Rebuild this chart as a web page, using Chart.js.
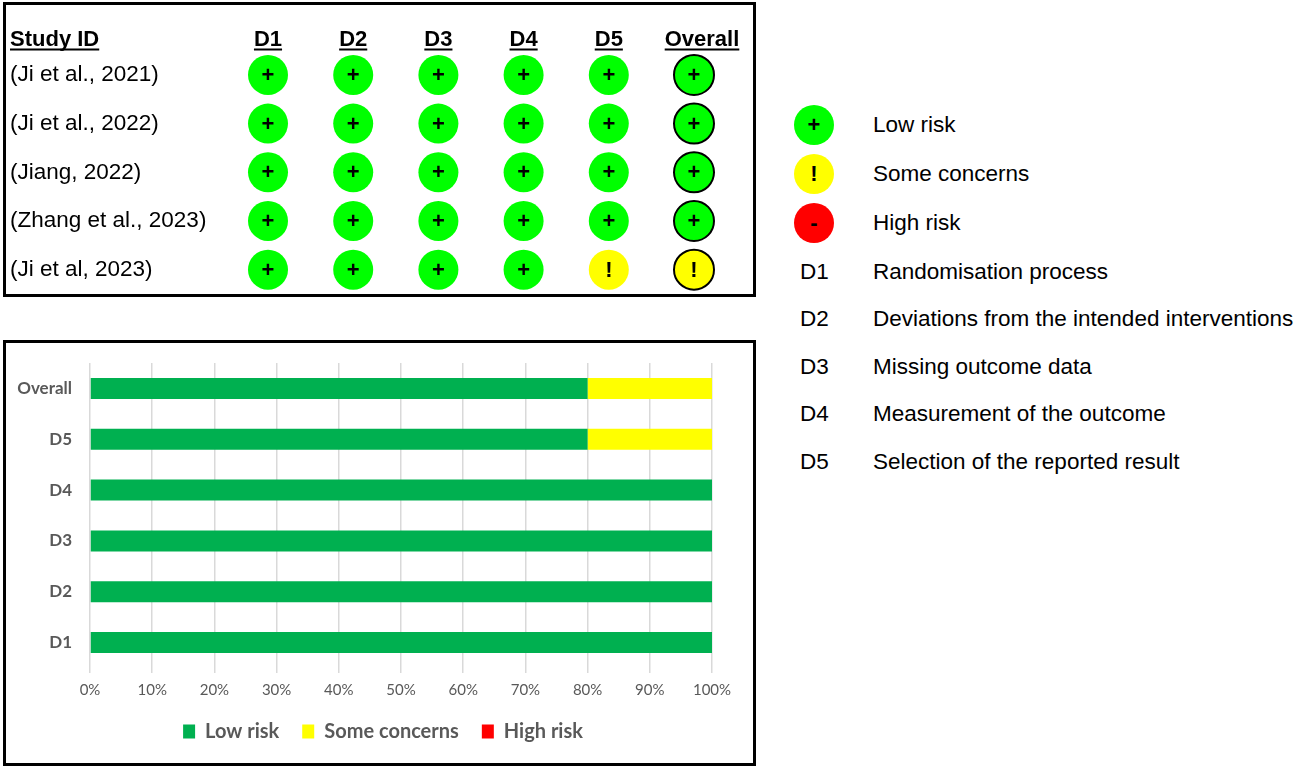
<!DOCTYPE html>
<html>
<head>
<meta charset="utf-8">
<script src="https://cdn.jsdelivr.net/npm/chart.js@4.4.0/dist/chart.umd.min.js"></script>
<style>
  html, body { margin: 0; padding: 0; background: #fff; }
  body { width: 1299px; height: 768px; position: relative; overflow: hidden; font-family: 'Liberation Sans', Arial, sans-serif; }
  .box { position: absolute; border: 3px solid #000; background: #fff; }
  #topBox { left: 3px; top: 2px; width: 747px; height: 289px; }
  #barBox { left: 3px; top: 340px; width: 747px; height: 420px; }
  .box canvas { display: block; }
  .row { position: absolute; height: 40px; line-height: 40px; font-size: 22.5px; color: #000; white-space: nowrap; }
  .dot { position: absolute; left: 794px; width: 40px; height: 40px; border-radius: 50%; text-align: center; font-weight: bold; font-size: 22px; line-height: 40px; }
  .code { position: absolute; left: 800px; }
  .label { position: absolute; left: 873px; }
</style>
</head>
<body>
<div class="box" id="topBox"><canvas id="traffic" width="747" height="289"></canvas></div>
<div class="box" id="barBox"><canvas id="summary" width="747" height="420"></canvas></div>
<div id="key"></div>
<script>
// traffic light plot
const studies = ['(Ji et al., 2021)', '(Ji et al., 2022)', '(Jiang, 2022)', '(Zhang et al., 2023)', '(Ji et al, 2023)'];
const domains = ['D1', 'D2', 'D3', 'D4', 'D5', 'Overall'];
const judgements = [
  ['+', '+', '+', '+', '+', '+'],
  ['+', '+', '+', '+', '+', '+'],
  ['+', '+', '+', '+', '+', '+'],
  ['+', '+', '+', '+', '+', '+'],
  ['+', '+', '+', '+', '!', '!']
];

// summary bar plot
const barCategories = ['Overall', 'D5', 'D4', 'D3', 'D2', 'D1'];
const lowRisk = [80, 80, 100, 100, 100, 100];
const someConcerns = [20, 20, 0, 0, 0, 0];
const highRisk = [0, 0, 0, 0, 0, 0];

// key
const keySymbols = ['+', '!', '-'];
const keyLabels = ['Low risk', 'Some concerns', 'High risk'];
const domainCodes = ['D1', 'D2', 'D3', 'D4', 'D5'];
const domainNames = ['Randomisation process', 'Deviations from the intended interventions', 'Missing outcome data', 'Measurement of the outcome', 'Selection of the reported result'];

const dotColor = { '+': '#00ff00', '!': '#ffff00', '-': '#ff0000' };
const FONT = "'Liberation Sans', Arial, sans-serif";

const points = [];
studies.forEach((s, i) => {
  domains.forEach((d, j) => points.push({ x: d, y: s, j: judgements[i][j] }));
});

// no extra padding for the first/last category labels
const noPad = s => { s.paddingTop = 0; s.paddingBottom = 0; };

const symbols = {
  id: 'symbols',
  afterDatasetsDraw(chart) {
    const ctx = chart.ctx;
    const meta = chart.getDatasetMeta(0);
    const xs = chart.scales.x;
    ctx.save();
    ctx.fillStyle = '#000';
    ctx.textAlign = 'center';
    ctx.textBaseline = 'middle';
    ctx.font = 'bold 22px ' + FONT;
    meta.data.forEach((el, i) => ctx.fillText(points[i].j, el.x, el.y + 1));

    // column headers, underlined
    ctx.textBaseline = 'alphabetic';
    ctx.strokeStyle = '#000';
    ctx.lineWidth = 2;
    const header = (text, x, align) => {
      ctx.textAlign = align;
      ctx.fillText(text, x, 41);
      const w = ctx.measureText(text).width;
      const x0 = align === 'center' ? x - w / 2 : x;
      ctx.beginPath();
      ctx.moveTo(x0, 44.5);
      ctx.lineTo(x0 + w, 44.5);
      ctx.stroke();
    };
    header('Study ID', chart.scales.y.left, 'left');
    domains.forEach((d, j) => header(d, xs.getPixelForValue(j) + (d === 'Overall' ? 8 : 0), 'center'));
    ctx.restore();
  }
};

new Chart(document.getElementById('traffic'), {
  type: 'scatter',
  data: {
    datasets: [{
      data: points,
      pointRadius: 20,
      pointHoverRadius: 20,
      backgroundColor: c => dotColor[c.raw.j],
      borderColor: '#000',
      borderWidth: c => (c.raw.x === 'Overall' ? 2 : 0),
      hoverBorderWidth: c => (c.raw.x === 'Overall' ? 2 : 0)
    }]
  },
  options: {
    responsive: false,
    animation: false,
    events: [],
    layout: { autoPadding: false, padding: { left: 4, top: 45.6, right: 16.4, bottom: 0 } },
    plugins: { legend: { display: false }, tooltip: { enabled: false } },
    scales: {
      x: { type: 'category', labels: domains, offset: true, display: false },
      y: {
        type: 'category',
        labels: studies,
        offset: true,
        grid: { display: false, drawTicks: false },
        border: { display: false },
        ticks: { crossAlign: 'far', padding: 0, color: '#000', font: { family: FONT, size: 22.5 } },
        afterFit: s => { s.width = 215.4; noPad(s); }
      }
    }
  },
  plugins: [symbols]
});

// centre the legend under the whole box, not only under the plot
const legendShift = {
  id: 'legendShift',
  afterLayout(chart) {
    chart.legend.left += 24;
    chart.legend.right += 24;
  }
};

const GREY = '#595959';
new Chart(document.getElementById('summary'), {
  type: 'bar',
  data: {
    labels: barCategories,
    datasets: [
      { label: 'Low risk', data: lowRisk, backgroundColor: '#00b050' },
      { label: 'Some concerns', data: someConcerns, backgroundColor: '#ffff00' },
      { label: 'High risk', data: highRisk, backgroundColor: '#ff0000' }
    ]
  },
  options: {
    indexAxis: 'y',
    responsive: false,
    animation: false,
    events: [],
    categoryPercentage: 0.46,
    barPercentage: 0.9,
    layout: { padding: { left: 0, top: 20, right: 41, bottom: 11.5 } },
    scales: {
      x: {
        stacked: true,
        min: 0,
        max: 100,
        grid: { color: '#d9d9d9', lineWidth: 1.5, tickLength: 5 },
        border: { display: false },
        ticks: { stepSize: 10, padding: 8, color: GREY, font: { family: 'Lato', size: 15 }, callback: v => v + '%' },
        afterFit: s => { s.height = 30.5; }
      },
      y: {
        stacked: true,
        grid: { display: false, drawTicks: false },
        border: { display: false },
        ticks: { padding: 18, color: GREY, font: { family: 'Lato', size: 17, weight: 'bold' } },
        afterFit: s => { s.width = 84; noPad(s); }
      }
    },
    plugins: {
      tooltip: { enabled: false },
      legend: {
        position: 'bottom',
        labels: { boxWidth: 12, boxHeight: 14, padding: 23, color: GREY, font: { family: 'Lato', size: 20, weight: 'bold' } }
      }
    }
  },
  plugins: [legendShift]
});

// key on the right
const key = document.getElementById('key');
const addRow = (y, html) => {
  const row = document.createElement('div');
  row.className = 'row';
  row.style.left = '0px';
  row.style.top = (y - 20) + 'px';
  row.innerHTML = html;
  key.appendChild(row);
};
keySymbols.forEach((s, i) => {
  addRow(124.5 + i * 49, `<div class="dot" style="background:${dotColor[s]}">${s}</div><span class="label">${keyLabels[i]}</span>`);
});
domainCodes.forEach((d, i) => {
  addRow(271.5 + i * 47.6, `<span class="code">${d}</span><span class="label">${domainNames[i]}</span>`);
});
</script>
</body>
</html>
